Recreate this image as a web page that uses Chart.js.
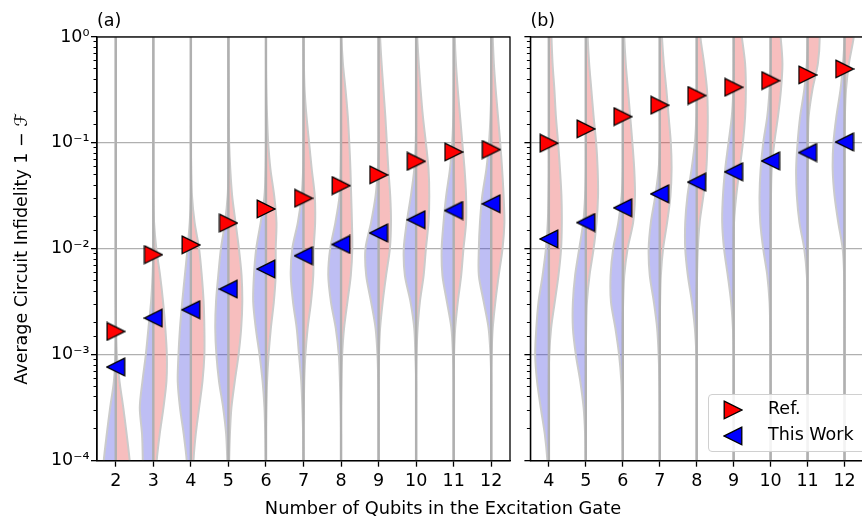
<!DOCTYPE html>
<html>
<head>
<meta charset="utf-8">
<title>Circuit infidelity violins</title>
<script src="https://cdn.jsdelivr.net/npm/chart.js@4"></script>
<style>
  html, body { margin: 0; padding: 0; background: #fff; overflow: hidden; }
  #wrap { position: relative; width: 862px; height: 518px; overflow: hidden; font-family: 'DejaVu Sans', sans-serif; color: #000; }
  #wrap canvas { position: absolute; top: 0; }
  #chartA { left: 0; }
  #chartB { left: 513px; }
  #xlabel { position: absolute; left: 243px; width: 400px; top: 497px; text-align: center; font-size: 17.8px; line-height: 21px; white-space: nowrap; }
  #legend { position: absolute; left: 708px; top: 394px; width: 160px; height: 56px; border: 1px solid #d0d0d0; border-radius: 4px; background: rgba(255,255,255,0.85); }
  #legend .txt { position: absolute; left: 59px; font-size: 17.5px; line-height: 21px; white-space: nowrap; }
</style>
</head>
<body>
<div id="wrap">
  <canvas id="chartA" width="520" height="518"></canvas>
  <canvas id="chartB" width="360" height="518"></canvas>
  <div id="xlabel">Number of Qubits in the Excitation Gate</div>
  <div id="legend">
    <span class="txt" style="top:3px">Ref.</span>
    <span class="txt" style="top:29px">This Work</span>
  </div>
</div>
<script>
const logLevels = [0.25, 0, -0.25, -0.5, -0.75, -1, -1.25, -1.5, -1.75, -2, -2.25, -2.5, -2.75, -3, -3.25, -3.5, -3.75, -4, -4.25];
const yMin = 1e-4;
const yMax = 1;

// panel (a)
const qubitsA = [2, 3, 4, 5, 6, 7, 8, 9, 10, 11, 12];
const refMeanA = [1.66e-3, 8.8e-3, 1.09e-2, 1.75e-2, 2.38e-2, 3.0e-2, 3.95e-2, 4.99e-2, 6.7e-2, 8.2e-2, 8.65e-2];
const oursMeanA = [7.66e-4, 2.22e-3, 2.66e-3, 4.17e-3, 6.45e-3, 8.6e-3, 1.1e-2, 1.41e-2, 1.88e-2, 2.3e-2, 2.66e-2];
const refWidthA = [
  [0, 0, 0, 0, 0, 0, 0, 0, 0, 0, 0, 0, 0.01, 0.03, 0.10, 0.20, 0.29, 0.37, 0.42],
  [0, 0, 0, 0, 0, 0, 0, 0, 0.02, 0.08, 0.18, 0.26, 0.32, 0.36, 0.35, 0.27, 0.17, 0.09, 0.05],
  [0, 0, 0, 0, 0, 0, 0.01, 0.03, 0.10, 0.22, 0.29, 0.34, 0.36, 0.36, 0.31, 0.22, 0.13, 0.07, 0.05],
  [0, 0, 0, 0.01, 0.01, 0.02, 0.05, 0.10, 0.19, 0.28, 0.35, 0.37, 0.34, 0.27, 0.17, 0.08, 0.04, 0.02, 0.01],
  [0, 0, 0, 0.01, 0.03, 0.06, 0.12, 0.22, 0.28, 0.26, 0.26, 0.21, 0.13, 0.07, 0.03, 0.01, 0, 0, 0],
  [0, 0, 0.01, 0.03, 0.08, 0.15, 0.22, 0.30, 0.31, 0.27, 0.26, 0.20, 0.11, 0.05, 0.02, 0.01, 0, 0, 0],
  [0, 0.01, 0.05, 0.12, 0.18, 0.22, 0.25, 0.27, 0.29, 0.30, 0.26, 0.17, 0.08, 0.03, 0.01, 0, 0, 0, 0],
  [0.02, 0.04, 0.08, 0.13, 0.18, 0.22, 0.26, 0.31, 0.33, 0.30, 0.20, 0.11, 0.04, 0.01, 0, 0, 0, 0, 0],
  [0.01, 0.03, 0.07, 0.12, 0.18, 0.26, 0.33, 0.35, 0.33, 0.26, 0.20, 0.10, 0.04, 0.01, 0, 0, 0, 0, 0],
  [0.02, 0.03, 0.06, 0.11, 0.17, 0.23, 0.29, 0.33, 0.33, 0.26, 0.20, 0.11, 0.04, 0.01, 0, 0, 0, 0, 0],
  [0.02, 0.04, 0.07, 0.12, 0.18, 0.24, 0.29, 0.33, 0.35, 0.30, 0.20, 0.11, 0.04, 0.01, 0, 0, 0, 0, 0]
];
const oursWidthA = [
  [0, 0, 0, 0, 0, 0, 0, 0, 0, 0, 0, 0, 0, 0.01, 0.05, 0.15, 0.24, 0.32, 0.36],
  [0, 0, 0, 0, 0, 0, 0, 0, 0, 0, 0.02, 0.06, 0.13, 0.20, 0.29, 0.36, 0.30, 0.28, 0.27],
  [0, 0, 0, 0, 0, 0, 0, 0, 0.03, 0.09, 0.16, 0.23, 0.29, 0.33, 0.35, 0.29, 0.19, 0.11, 0.08],
  [0, 0, 0, 0, 0, 0, 0, 0.02, 0.09, 0.20, 0.27, 0.33, 0.35, 0.32, 0.25, 0.14, 0.06, 0.03, 0.01],
  [0, 0, 0, 0, 0, 0, 0.01, 0.04, 0.14, 0.26, 0.32, 0.34, 0.27, 0.17, 0.09, 0.04, 0.02, 0.01, 0],
  [0, 0, 0, 0, 0, 0, 0.01, 0.05, 0.15, 0.30, 0.34, 0.28, 0.18, 0.12, 0.06, 0.03, 0.01, 0, 0],
  [0, 0, 0, 0, 0, 0, 0.01, 0.04, 0.15, 0.29, 0.34, 0.27, 0.14, 0.06, 0.03, 0.01, 0, 0, 0],
  [0, 0, 0, 0, 0, 0, 0.02, 0.08, 0.20, 0.35, 0.33, 0.20, 0.08, 0.03, 0.01, 0, 0, 0, 0],
  [0, 0, 0, 0, 0, 0.01, 0.05, 0.14, 0.25, 0.33, 0.30, 0.15, 0.05, 0.02, 0, 0, 0, 0, 0],
  [0, 0, 0, 0, 0.01, 0.04, 0.10, 0.20, 0.27, 0.32, 0.30, 0.18, 0.06, 0.02, 0, 0, 0, 0, 0],
  [0, 0, 0, 0, 0.02, 0.06, 0.13, 0.24, 0.30, 0.33, 0.33, 0.20, 0.07, 0.02, 0, 0, 0, 0, 0]
];

// panel (b)
const qubitsB = [4, 5, 6, 7, 8, 9, 10, 11, 12];
const refMeanB = [0.0993, 0.1356, 0.177, 0.227, 0.28, 0.335, 0.387, 0.438, 0.499];
const oursMeanB = [0.0124, 0.0177, 0.0244, 0.033, 0.0426, 0.0533, 0.0676, 0.081, 0.102];
const refWidthB = [
  [0.05, 0.07, 0.10, 0.15, 0.19, 0.25, 0.30, 0.34, 0.35, 0.33, 0.26, 0.16, 0.06, 0.01, 0, 0, 0, 0, 0],
  [0.03, 0.05, 0.09, 0.15, 0.21, 0.28, 0.32, 0.33, 0.29, 0.21, 0.10, 0.03, 0.01, 0, 0, 0, 0, 0, 0],
  [0.02, 0.04, 0.08, 0.14, 0.20, 0.26, 0.31, 0.33, 0.28, 0.13, 0.04, 0.01, 0, 0, 0, 0, 0, 0, 0],
  [0.03, 0.06, 0.11, 0.18, 0.24, 0.30, 0.32, 0.29, 0.20, 0.09, 0.03, 0.01, 0, 0, 0, 0, 0, 0, 0],
  [0.06, 0.10, 0.20, 0.28, 0.30, 0.29, 0.26, 0.18, 0.08, 0.03, 0.01, 0, 0, 0, 0, 0, 0, 0, 0],
  [0.12, 0.22, 0.31, 0.33, 0.31, 0.25, 0.16, 0.07, 0.01, 0, 0, 0, 0, 0, 0, 0, 0, 0, 0],
  [0.18, 0.27, 0.32, 0.28, 0.20, 0.10, 0.03, 0.01, 0, 0, 0, 0, 0, 0, 0, 0, 0, 0, 0],
  [0.30, 0.33, 0.28, 0.13, 0.03, 0.01, 0, 0, 0, 0, 0, 0, 0, 0, 0, 0, 0, 0, 0],
  [0.30, 0.25, 0.12, 0.04, 0.01, 0, 0, 0, 0, 0, 0, 0, 0, 0, 0, 0, 0, 0, 0]
];
const oursWidthB = [
  [0, 0, 0, 0, 0, 0, 0, 0.01, 0.03, 0.08, 0.17, 0.28, 0.34, 0.37, 0.32, 0.22, 0.11, 0.04, 0.01],
  [0, 0, 0, 0, 0, 0, 0, 0.02, 0.07, 0.18, 0.29, 0.35, 0.35, 0.27, 0.15, 0.06, 0.02, 0.01, 0],
  [0, 0, 0, 0, 0, 0, 0, 0.03, 0.12, 0.26, 0.33, 0.32, 0.20, 0.10, 0.04, 0.02, 0.01, 0, 0],
  [0, 0, 0, 0, 0, 0, 0.03, 0.12, 0.24, 0.30, 0.27, 0.16, 0.07, 0.03, 0.01, 0, 0, 0, 0],
  [0, 0, 0, 0, 0.01, 0.05, 0.14, 0.25, 0.31, 0.31, 0.24, 0.13, 0.05, 0.01, 0, 0, 0, 0, 0],
  [0, 0, 0, 0.01, 0.05, 0.14, 0.23, 0.29, 0.31, 0.26, 0.16, 0.07, 0.02, 0, 0, 0, 0, 0, 0],
  [0, 0, 0, 0.03, 0.09, 0.20, 0.27, 0.30, 0.28, 0.20, 0.09, 0.03, 0.01, 0, 0, 0, 0, 0, 0],
  [0, 0, 0.02, 0.09, 0.20, 0.27, 0.31, 0.29, 0.22, 0.09, 0.02, 0, 0, 0, 0, 0, 0, 0, 0],
  [0, 0, 0.04, 0.11, 0.22, 0.30, 0.32, 0.27, 0.17, 0.05, 0.01, 0, 0, 0, 0, 0, 0, 0, 0]
];

const yTitle = 'Average Circuit Infidelity 1 \u2212 \u2131';
const refFill = 'rgba(230, 40, 40, 0.3)';
const oursFill = 'rgba(40, 40, 220, 0.3)';
const outlineColor = '#cbcbcb';
const centerColor = '#b0b0b0';
const gridColor = '#b0b0b0';
const fontSize = 17.5;

Chart.defaults.font.family = "'DejaVu Sans', sans-serif";
Chart.defaults.font.size = fontSize;
Chart.defaults.color = '#000';

// matplotlib-like triangle markers, filled with a black edge
function triangleIcon(fill, pointRight) {
  const c = document.createElement('canvas');
  c.width = 20;
  c.height = 20;
  const g = c.getContext('2d');
  g.beginPath();
  if (pointRight) {
    g.moveTo(1.2, 1.2); g.lineTo(18.8, 10); g.lineTo(1.2, 18.8);
  } else {
    g.moveTo(18.8, 1.2); g.lineTo(1.2, 10); g.lineTo(18.8, 18.8);
  }
  g.closePath();
  g.fillStyle = fill;
  g.fill();
  g.lineWidth = 1.3;
  g.strokeStyle = '#000';
  g.stroke();
  return c;
}
const refIcon = triangleIcon('#ff0000', true);
const oursIcon = triangleIcon('#0000ff', false);

const isDecade = v => {
  const l = Math.log10(v);
  return Math.abs(l - Math.round(l)) < 1e-6;
};
const supChars = { '-': '\u207b', '0': '\u2070', '1': '\u00b9', '2': '\u00b2', '3': '\u00b3', '4': '\u2074' };
const decadeLabel = v => '10' + String(Math.round(Math.log10(v))).split('').map(ch => supChars[ch]).join('');

// one half of a split violin, filled towards the centre line
function violinHalves(qubits, widths, side, fillColor) {
  return qubits.map((q, k) => ({
    data: logLevels.map((lv, i) => ({ x: q + side * widths[k][i], y: Math.pow(10, lv) })),
    fill: { value: q },
    backgroundColor: fillColor,
    borderColor: outlineColor,
    borderWidth: 2,
    tension: 0.3,
    pointRadius: 0,
    order: 3
  }));
}

function centerLines(qubits) {
  return qubits.map(q => ({
    data: [{ x: q, y: yMax }, { x: q, y: yMin }],
    borderColor: centerColor,
    borderWidth: 2.4,
    pointRadius: 0,
    fill: false,
    order: 2
  }));
}

function markers(qubits, values, icon) {
  return {
    data: qubits.map((q, i) => ({ x: q, y: values[i] })),
    showLine: false,
    fill: false,
    pointStyle: icon,
    pointRadius: 9,
    clip: false,
    order: 0
  };
}

const framePlugin = {
  id: 'frame',
  afterDraw(chart) {
    const { ctx, chartArea: a } = chart;
    ctx.save();
    ctx.strokeStyle = '#000';
    ctx.lineWidth = 1.3;
    ctx.strokeRect(a.left, a.top, a.right - a.left, a.bottom - a.top);
    ctx.restore();
  }
};

function buildChart(canvasId, panel, qubits, xMin, xMax, refMean, oursMean, refWidth, oursWidth, axisWidth, padRight, withLabels) {
  const datasets = [
    markers(qubits, refMean, refIcon),
    markers(qubits, oursMean, oursIcon),
    ...centerLines(qubits),
    ...violinHalves(qubits, oursWidth, -1, oursFill),
    ...violinHalves(qubits, refWidth, 1, refFill)
  ];
  return new Chart(document.getElementById(canvasId), {
    type: 'line',
    data: { datasets },
    plugins: [framePlugin],
    options: {
      indexAxis: 'y',
      responsive: false,
      animation: false,
      events: [],
      devicePixelRatio: 1,
      layout: { padding: { left: 0, right: padRight, top: 0, bottom: 0 } },
      plugins: {
        legend: { display: false },
        tooltip: { enabled: false },
        title: {
          display: true,
          text: panel,
          align: 'start',
          fullSize: false,
          color: '#000',
          font: { size: fontSize, weight: 'normal' },
          padding: { top: 10.9, bottom: 5.1 }
        }
      },
      scales: {
        x: {
          type: 'linear',
          min: xMin,
          max: xMax,
          afterBuildTicks: s => { s.ticks = qubits.map(v => ({ value: v })); },
          grid: { drawOnChartArea: false, tickLength: 6, tickColor: '#000', tickWidth: 1.3 },
          border: { color: '#000', width: 1.3 },
          ticks: { autoSkip: false, maxRotation: 0, padding: 4, color: '#000', font: { size: fontSize } },
          afterFit: s => { s.height = 57.3; }
        },
        y: {
          type: 'logarithmic',
          min: yMin,
          max: yMax,
          position: 'left',
          weight: 1,
          grid: {
            color: c => (c.tick && isDecade(c.tick.value)) ? gridColor : 'rgba(0,0,0,0)',
            lineWidth: 1.3,
            tickColor: c => (c.tick && isDecade(c.tick.value)) ? '#000' : 'rgba(0,0,0,0)',
            tickLength: 6,
            tickWidth: 1.3
          },
          border: { color: '#000', width: 1.3 },
          ticks: {
            display: withLabels,
            autoSkip: false,
            padding: 1.5,
            color: '#000',
            font: { size: fontSize },
            callback: v => isDecade(v) ? decadeLabel(v) : ''
          },
          title: {
            display: withLabels,
            text: yTitle,
            color: '#000',
            font: { size: fontSize },
            padding: { top: 11.5, bottom: 0 }
          },
          afterFit: s => { s.width = axisWidth; }
        },
        yMinor: {
          type: 'logarithmic',
          min: yMin,
          max: yMax,
          position: 'left',
          weight: 0,
          grid: {
            drawOnChartArea: false,
            tickLength: 3.5,
            tickWidth: 1,
            tickColor: c => (c.tick && isDecade(c.tick.value)) ? 'rgba(0,0,0,0)' : '#000'
          },
          border: { display: false },
          ticks: { display: false, autoSkip: false },
          afterFit: s => { s.width = 0; }
        }
      }
    }
  });
}

buildChart('chartA', '(a)', qubitsA, 1.5, 12.5, refMeanA, oursMeanA, refWidthA, oursWidthA, 97, 7.3, true);
buildChart('chartB', '(b)', qubitsB, 3.5, 12.5, refMeanB, oursMeanB, refWidthB, oursWidthB, 17.4, 2.4, false);

// legend entries reuse the marker icons
const legend = document.getElementById('legend');
[[refIcon, 5], [oursIcon, 31]].forEach(([icon, top]) => {
  const c = document.createElement('canvas');
  c.width = 20;
  c.height = 20;
  c.style.position = 'absolute';
  c.style.left = '14px';
  c.style.top = top + 'px';
  c.getContext('2d').drawImage(icon, 0, 0);
  legend.appendChild(c);
});
</script>
</body>
</html>
